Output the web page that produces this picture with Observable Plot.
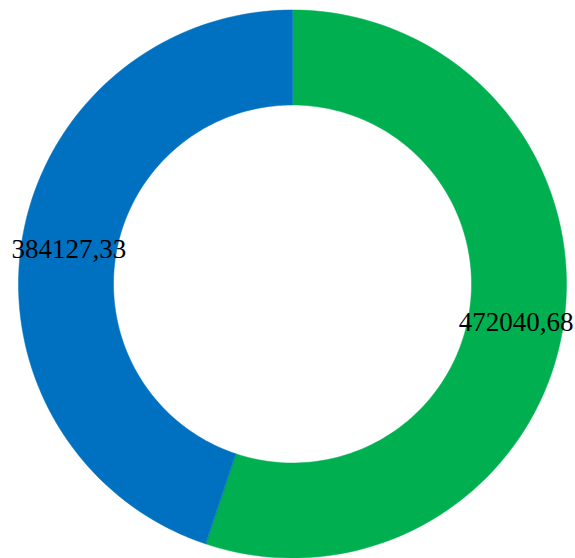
<!DOCTYPE html>
<html>
<head>
<meta charset="utf-8">
<script src="https://cdn.jsdelivr.net/npm/d3@7"></script>
<script src="https://cdn.jsdelivr.net/npm/@observablehq/plot@0.6"></script>
<style>
  html, body { margin: 0; padding: 0; background: #ffffff; }
  #chart svg { display: block; }
</style>
</head>
<body>
<div id="chart"></div>
<script>
// Data
const categories = ["Slice 1", "Slice 2"];
const values = [472040.68, 384127.33];
const labels = ["472040,68", "384127,33"];
const colors = ["#00B050", "#0070C0"];

// Layout
const W = 575, H = 558;
const cx = 292, cy = 283.5, R = 274;
const innerRatio = 179 / 274;
const midRatio = (1 + innerRatio) / 2;

const pie = d3.pie().sort(null).value(d => d.value);
const slices = pie(categories.map((c, i) => ({category: c, value: values[i], label: labels[i]})));

// Build polygon outlines in data units (unit circle) for each slice
const steps = 240;
const polyPts = [];
slices.forEach(s => {
  const n = Math.max(2, Math.ceil(steps * (s.endAngle - s.startAngle) / (2 * Math.PI)));
  for (let k = 0; k <= n; k++) {
    const a = s.startAngle + (s.endAngle - s.startAngle) * k / n;
    polyPts.push({category: s.data.category, x: Math.sin(a), y: Math.cos(a)});
  }
  for (let k = n; k >= 0; k--) {
    const a = s.startAngle + (s.endAngle - s.startAngle) * k / n;
    polyPts.push({category: s.data.category, x: innerRatio * Math.sin(a), y: innerRatio * Math.cos(a)});
  }
});

const labelPts = slices.map(s => {
  const a = (s.startAngle + s.endAngle) / 2;
  return {label: s.data.label, x: midRatio * Math.sin(a), y: midRatio * Math.cos(a)};
});

const plot = Plot.plot({
  width: W,
  height: H,
  margin: 0,
  style: {background: "#ffffff"},
  x: {domain: [-cx / R, (W - cx) / R], axis: null},
  y: {domain: [-(H - cy) / R, cy / R], axis: null},
  color: {type: "ordinal", domain: categories, range: colors},
  marks: [
    Plot.line(polyPts, {x: "x", y: "y", z: "category", fill: "category", stroke: "category", strokeWidth: 0.5, curve: "linear-closed"}),
    Plot.text(labelPts, {x: "x", y: "y", text: "label", fill: "#000000", fontSize: 27, fontFamily: "Liberation Serif", textAnchor: "middle", dy: 2})
  ]
});

document.getElementById("chart").appendChild(plot);
</script>
</body>
</html>
